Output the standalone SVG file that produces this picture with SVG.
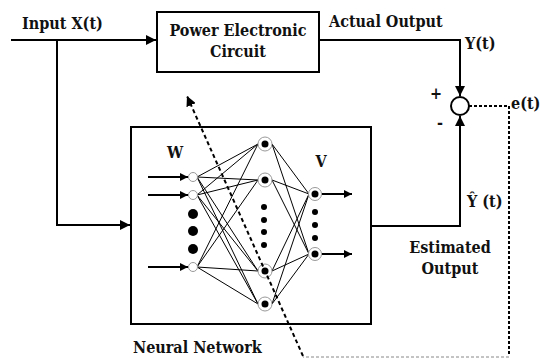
<svg xmlns="http://www.w3.org/2000/svg" width="540" height="358" viewBox="0 0 540 358">
<style>
  .t{font-family:"DejaVu Serif Condensed","DejaVu Serif",serif;font-stretch:condensed;font-weight:bold;font-size:16px;fill:#111}
  .box{fill:#fff;stroke:#000;stroke-width:2}
  .ln{fill:none;stroke:#000;stroke-width:2}
  .w{fill:none;stroke:#000;stroke-width:1}
  .nd{fill:#fff;stroke:#999;stroke-width:1}
  .dot{fill:#000}
</style>
<defs>
  <marker id="ah" viewBox="0 0 10 10" refX="10" refY="5" markerWidth="5" markerHeight="5" orient="auto" markerUnits="strokeWidth">
    <path d="M0,0 L10,5 L0,10 z" fill="#000"/>
  </marker>
  <marker id="ah2" viewBox="0 0 10 10" refX="10" refY="5" markerWidth="5" markerHeight="4" orient="auto" markerUnits="strokeWidth">
    <path d="M0,0 L10,5 L0,10 z" fill="#000"/>
  </marker>
</defs>
<rect width="540" height="358" fill="#fff"/>

<g id="pec">
  <rect class="box" x="157" y="12" width="162" height="60"/>
  <text class="t" x="238" y="36" text-anchor="middle">Power Electronic</text>
  <text class="t" x="238" y="57" text-anchor="middle">Circuit</text>
</g>

<g id="sum">
  <circle cx="460" cy="106" r="9" fill="#fff" stroke="#000" stroke-width="2"/>
  <text class="t" x="436" y="99" text-anchor="middle" font-size="14">+</text>
  <text class="t" x="440" y="128" text-anchor="middle" font-size="14">-</text>
</g>

<g id="nn">
  <rect class="box" x="131" y="127" width="240" height="197"/>
  <text class="t" x="175" y="158" text-anchor="middle" font-size="15">W</text>
  <text class="t" x="321" y="167" text-anchor="middle" font-size="15">V</text>
  <g id="weights">
    <path class="w" d="M197,177 L258,144 M197,177 L258,180 M197,177 L258,271 M197,177 L258,304
                       M197,195 L258,144 M197,195 L258,180 M197,195 L258,271 M197,195 L258,304
                       M197,267 L258,144 M197,267 L258,180 M197,267 L258,271 M197,267 L258,304"/>
    <path class="w" d="M272,144 L309,194 M272,144 L309,254 M272,180 L309,194 M272,180 L309,254
                       M272,271 L309,194 M272,271 L309,254 M272,304 L309,194 M272,304 L309,254"/>
  </g>
  <g id="inputs">
    <path class="ln" d="M148,177 H188" marker-end="url(#ah2)"/>
    <path class="ln" d="M148,195 H188" marker-end="url(#ah2)"/>
    <path class="ln" d="M148,267 H188" marker-end="url(#ah2)"/>
    <circle class="nd" cx="193" cy="177" r="4.5"/>
    <circle class="nd" cx="193" cy="195" r="4.5"/>
    <circle class="nd" cx="193" cy="267" r="4.5"/>
    <circle class="dot" cx="193" cy="214" r="5"/>
    <circle class="dot" cx="193" cy="231" r="5"/>
    <circle class="dot" cx="193" cy="249" r="5"/>
  </g>
  <g id="hidden">
    <circle class="nd" cx="265" cy="144" r="7"/><circle class="dot" cx="265" cy="144" r="3.5"/>
    <circle class="nd" cx="265" cy="180" r="7"/><circle class="dot" cx="265" cy="180" r="3.5"/>
    <circle class="nd" cx="265" cy="271" r="7"/><circle class="dot" cx="265" cy="271" r="3.5"/>
    <circle class="nd" cx="265" cy="304" r="7"/><circle class="dot" cx="265" cy="304" r="3.5"/>
    <circle class="dot" cx="264" cy="207" r="3"/>
    <circle class="dot" cx="264" cy="220" r="3"/>
    <circle class="dot" cx="264" cy="232" r="3"/>
    <circle class="dot" cx="264" cy="245" r="3"/>
  </g>
  <g id="outputs">
    <circle class="nd" cx="315" cy="194" r="6.5"/><circle class="dot" cx="315" cy="194" r="3.5"/>
    <circle class="nd" cx="315" cy="254" r="6.5"/><circle class="dot" cx="315" cy="254" r="3.5"/>
    <circle class="dot" cx="315" cy="212" r="3"/>
    <circle class="dot" cx="315" cy="225" r="3"/>
    <circle class="dot" cx="315" cy="238" r="3"/>
    <path class="ln" d="M322,194 H352" marker-end="url(#ah2)"/>
    <path class="ln" d="M322,254 H352" marker-end="url(#ah2)"/>
  </g>
</g>

<g id="labels">
  <text class="t" x="22" y="29">Input X(t)</text>
  <text class="t" x="329" y="27">Actual Output</text>
  <text class="t" x="465" y="49">Y(t)</text>
  <text class="t" x="511" y="109">e(t)</text>
  <text class="t" x="467" y="207">Ŷ (t)</text>
  <text class="t" x="450" y="253" text-anchor="middle">Estimated</text>
  <text class="t" x="450" y="274" text-anchor="middle">Output</text>
  <text class="t" x="133" y="353">Neural Network</text>
</g>

<g id="connectors">
  <path class="ln" d="M11,40 H156" marker-end="url(#ah)"/>
  <path class="ln" d="M57,40 V225 H130" marker-end="url(#ah)"/>
  <path class="ln" d="M319,40 H460 V96" marker-end="url(#ah)"/>
  <path class="ln" d="M371,226 H460 V116" marker-end="url(#ah)"/>
  <path d="M469,106 H509 V356" fill="none" stroke="#000" stroke-width="2" stroke-dasharray="3 2"/>
  <path d="M509,357 H303" fill="none" stroke="#888" stroke-width="1" stroke-dasharray="3 2"/>
  <path d="M303,356 L187,96" fill="none" stroke="#000" stroke-width="2" stroke-dasharray="4 3" marker-end="url(#ah)"/>
</g>
</svg>
